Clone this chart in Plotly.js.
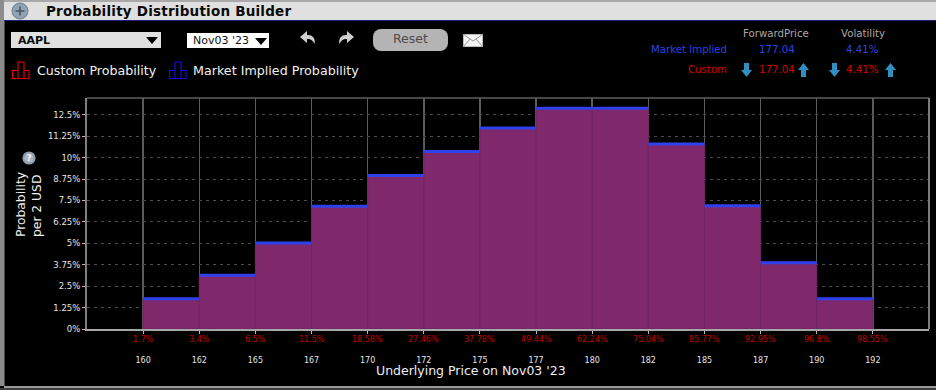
<!DOCTYPE html>
<html>
<head>
<meta charset="utf-8">
<script src="https://cdn.plot.ly/plotly-3.0.1.min.js"></script>
<style>
html,body{margin:0;padding:0;background:#000;width:936px;height:390px;overflow:hidden;font-family:"DejaVu Sans",sans-serif}
#chart{position:absolute;left:0;top:0;width:936px;height:390px}
.t{position:absolute;white-space:nowrap;line-height:1}
svg.i{position:absolute;overflow:visible}
.b{position:absolute}
</style>
</head>
<body>
<div id="chart"></div>

<div class="b" style="left:0;top:0;width:936px;height:2px;background:#a8a8a8"></div>
<div class="b" style="left:0;top:2px;width:936px;height:18px;background:#e0e0e0"></div>
<div class="b" style="left:0;top:20px;width:936px;height:1px;background:#1c1f78"></div>
<div class="b" style="left:0;top:0;width:4px;height:386px;background:#8c8c8c"></div>
<div class="b" style="left:4px;top:21px;width:1px;height:365px;background:#4a4a4a"></div>
<div class="b" style="left:4px;top:386px;width:932px;height:2px;background:#9a9a9a"></div>
<div class="b" style="left:0;top:388px;width:936px;height:2px;background:#3c3c3c"></div>

<svg class="i" style="left:11px;top:2px" width="18" height="18" viewBox="0 0 18 18">
  <circle cx="9" cy="9" r="8" fill="#8fa3b3" stroke="#6f7f8c"/>
  <path d="M9 4.5V13.5M4.5 9H13.5" stroke="#4a5560" stroke-width="1.6"/>
</svg>
<div class="t" style="left:46px;top:5px;font-size:13.5px;font-weight:bold;color:#0a0a0a;letter-spacing:.22px">Probability Distribution Builder</div>

<div class="b" style="left:11px;top:32px;width:150px;height:16px;background:#e0e0e0"></div>
<div class="t" style="left:18px;top:35px;font-size:11px;font-weight:bold;color:#0a0a0a">AAPL</div>
<svg class="i" style="left:146px;top:37px" width="12" height="7"><path d="M0 0H12L6 7Z" fill="#000"/></svg>

<div class="b" style="left:187px;top:33px;width:82px;height:15px;background:#fff"></div>
<div class="t" style="left:193px;top:35px;font-size:11px;color:#111">Nov03 '23</div>
<svg class="i" style="left:255px;top:38px" width="12" height="7"><path d="M0 0H12L6 7Z" fill="#000"/></svg>

<svg class="i" style="left:299px;top:30px" width="18" height="17" viewBox="0 0 18 17">
  <path d="M15.5 14C17 8 13 4.5 8 5V1L1 7l7 6V9c3-.5 6 1 7.5 5Z" fill="#cfcfcf"/>
</svg>
<svg class="i" style="left:337px;top:30px" width="18" height="17" viewBox="0 0 18 17">
  <path d="M2.5 14C1 8 5 4.5 10 5V1l7 6-7 6V9c-3-.5-6 1-7.5 5Z" fill="#cfcfcf"/>
</svg>
<div class="b" style="left:373px;top:29px;width:75px;height:22px;background:#b4b4b4;border-radius:8px"></div>
<div class="t" style="left:393px;top:33px;font-size:12.5px;color:#4c4c4c">Reset</div>
<svg class="i" style="left:463px;top:34px" width="20" height="13" viewBox="0 0 20 13">
  <rect x=".5" y=".5" width="19" height="12" fill="#f4f4f4" stroke="#bbb"/>
  <path d="M.5 .5L10 7 19.5 .5M.5 12.5L7 5M19.5 12.5L13 5" fill="none" stroke="#999"/>
</svg>

<svg class="i" style="left:12px;top:61px" width="18" height="18" viewBox="0 0 18 18">
  <path d="M.5 17.5V9.5H6V1H12V9.5H17V17.5ZM6 9.5V17.5M12 9.5V17.5" fill="none" stroke="#e00000" stroke-width="1.2"/>
</svg>
<div class="t" style="left:37px;top:65px;font-size:12.65px;color:#f0f0f0">Custom Probability</div>
<svg class="i" style="left:169px;top:61px" width="18" height="18" viewBox="0 0 18 18">
  <path d="M.5 17.5V9.5H6V1H12V9.5H17V17.5ZM6 9.5V17.5M12 9.5V17.5" fill="none" stroke="#1010e0" stroke-width="1.2"/>
</svg>
<div class="t" style="left:193px;top:65px;font-size:12.7px;color:#f0f0f0">Market Implied Probability</div>

<div class="t" style="left:743px;top:29px;font-size:10.2px;color:#a8a8a8">ForwardPrice</div>
<div class="t" style="left:841px;top:29px;font-size:10.2px;color:#a8a8a8">Volatility</div>
<div class="t" style="left:651px;top:45px;font-size:10.2px;color:#2a45e0">Market Implied</div>
<div class="t" style="left:759px;top:45px;font-size:10.2px;color:#2a45e0">177.04</div>
<div class="t" style="left:846px;top:45px;font-size:10.2px;color:#2a45e0">4.41%</div>
<div class="t" style="left:688px;top:65px;font-size:10.2px;color:#d00000">Custom</div>
<div class="t" style="left:759px;top:65px;font-size:10.2px;color:#d00000">177.04</div>
<div class="t" style="left:846px;top:65px;font-size:10.2px;color:#d00000">4.41%</div>
<svg class="i" style="left:741px;top:63px" width="11" height="14"><path d="M3 0H8V7H11L5.5 14 0 7H3Z" fill="#2f8fc0"/></svg>
<svg class="i" style="left:798px;top:63px" width="11" height="14"><path d="M3 14H8V7H11L5.5 0 0 7H3Z" fill="#2f8fc0"/></svg>
<svg class="i" style="left:829px;top:63px" width="11" height="14"><path d="M3 0H8V7H11L5.5 14 0 7H3Z" fill="#2f8fc0"/></svg>
<svg class="i" style="left:885px;top:63px" width="11" height="14"><path d="M3 14H8V7H11L5.5 0 0 7H3Z" fill="#2f8fc0"/></svg>

<svg class="i" style="left:22px;top:151px" width="14" height="14" viewBox="0 0 14 14">
  <circle cx="7" cy="7" r="6.6" fill="#8d9dab"/>
  <circle cx="7" cy="7" r="4.6" fill="#a9b6c1"/>
  <text x="7" y="10.2" font-size="9" font-weight="bold" text-anchor="middle" fill="#f2f2f2" font-family="DejaVu Sans">?</text>
</svg>

<script>
var strikes = ["160","162","165","167","170","172","175","177","180","182","185","187","190","192"];
var cumulative = ["1.7%","3.4%","6.5%","11.5%","18.58%","27.46%","37.78%","49.44%","62.24%","75.04%","85.77%","92.95%","96.8%","98.55%"];
var probability = [1.76,3.14,5.02,7.16,8.96,10.36,11.73,12.88,12.88,10.79,7.19,3.86,1.76];
var yTicks = [0,1.25,2.5,3.75,5,6.25,7.5,8.75,10,11.25,12.5];
var yLabels = ["0%","1.25%","2.5%","3.75%","5%","6.25%","7.5%","8.75%","10%","11.25%","12.5%"];

var positions = strikes.map(function(_, i){ return i; });
var barX = probability.map(function(_, i){ return i + 0.5; });

var capX = [], capY = [];
probability.forEach(function(v, i){
  capX.push(i, i + 1, null);
  capY.push(v, v, null);
});

var traces = [
  {type:"bar", name:"Custom Probability", x:barX, y:probability, width:1,
   marker:{color:"#7f296c", line:{color:"#702563", width:1}}, hoverinfo:"skip"},
  {type:"scatter", mode:"lines", name:"Market Implied Probability", x:capX, y:capY,
   line:{color:"#2f41ea", width:3}, connectgaps:false, hoverinfo:"skip"}
];

var annotations = cumulative.map(function(txt, i){
  return {xref:"x", yref:"paper", x:i, y:0, yshift:-10, yanchor:"middle", xanchor:"center",
          text:txt, showarrow:false, font:{family:"DejaVu Sans", size:8, color:"#c00000"}};
});

var layout = {
  width:936, height:390,
  margin:{l:86.5, r:7.3, t:97.5, b:61},
  paper_bgcolor:"rgba(0,0,0,0)", plot_bgcolor:"#000",
  showlegend:false, bargap:0, barmode:"overlay",
  font:{family:"DejaVu Sans", color:"#e0e0e0"},
  xaxis:{range:[-1,14], tickmode:"array", tickvals:positions, ticktext:strikes,
    showgrid:true, gridcolor:"#5a5a5a", gridwidth:1.5, zeroline:false,
    ticks:"outside", ticklen:3, tickcolor:"#bbb", tickwidth:1, ticklabelstandoff:19,
    tickfont:{size:8, color:"#e4e4e4"},
    showline:true, linecolor:"#a6a6a6", linewidth:2,
    title:{text:""}},
  yaxis:{range:[0,13.48], tickmode:"array", tickvals:yTicks, ticktext:yLabels,
    showgrid:true, gridcolor:"#4c4c4c", griddash:"3px,4px", gridwidth:1, zeroline:false,
    ticks:"outside", ticklen:3, tickcolor:"#bbb", tickwidth:1,
    tickfont:{size:8.5, color:"#e4e4e4"},
    showline:true, linecolor:"#808080", linewidth:2,
    title:{text:""}},
  annotations: annotations.concat([
    {xref:"paper", yref:"paper", x:-0.0682, y:0.39, xanchor:"center", yanchor:"bottom", textangle:-90,
     text:"Probability<br>per 2 USD", align:"left", showarrow:false, font:{size:12.3, color:"#f0f0f0"}},
    {xref:"paper", yref:"paper", x:0.4565, y:-0.1815, xanchor:"center", yanchor:"middle",
     text:"Underlying Price on Nov03 '23", showarrow:false, font:{size:12.5, color:"#eeeeee"}}
  ]),
  shapes:[
    {type:"line", xref:"paper", yref:"paper", x0:0, x1:1, y0:1, y1:1, line:{color:"#5e5e5e", width:1.5}},
    {type:"line", xref:"paper", yref:"paper", x0:1, x1:1, y0:0, y1:1, line:{color:"#7a7a7a", width:2}}
  ]
};
Plotly.newPlot("chart", traces, layout, {staticPlot:true, displayModeBar:false});
</script>
</body>
</html>
